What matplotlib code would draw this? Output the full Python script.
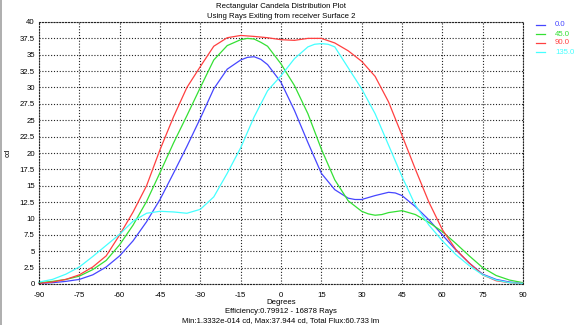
import matplotlib
matplotlib.use("Agg")
import matplotlib.pyplot as plt
from matplotlib.patches import Rectangle

# Angle samples (degrees) and candela values for each azimuth slice
deg_0 = [-90, -85, -80, -75, -70, -65, -60, -55, -50, -45, -40, -35, -30,
         -25, -20, -15, -12.5, -10, -7.5, -5, 0, 5, 10, 15, 20, 25, 27.5, 30,
         35, 40, 42.5, 45, 50, 55, 60, 65, 70, 75, 80, 85, 90]
cd_0 = [0.1, 0.2, 0.4, 0.7, 1.4, 2.6, 4.3, 6.6, 9.5, 12.9, 16.9, 21.0, 25.3,
        29.8, 32.8, 34.2, 34.6, 34.7, 34.3, 33.5, 30.8, 26.5, 21.6, 16.9, 14.4,
        13.1, 12.9, 12.9, 13.5, 14.0, 13.9, 13.5, 11.8, 9.8, 7.5, 5.2, 3.2, 1.5,
        0.7, 0.3, 0.1]

deg_45 = [-90, -85, -80, -75, -70, -65, -60, -55, -50, -45, -40, -35, -30,
          -25, -20, -15, -12.5, -10, -7.5, -5, 0, 5, 10, 15, 20, 25, 30, 32.5,
          35, 37.5, 40, 45, 50, 55, 60, 65, 70, 75, 80, 85, 90]
cd_45 = [0.2, 0.4, 0.7, 1.2, 2.2, 3.6, 6.0, 9.0, 12.6, 17.0, 21.5, 25.7, 30.0,
         34.2, 36.4, 37.3, 37.5, 37.4, 36.9, 36.3, 33.6, 30.3, 26.0, 20.6, 15.9,
         12.7, 11.1, 10.7, 10.5, 10.6, 10.9, 11.2, 10.6, 9.4, 8.0, 6.2, 4.3, 2.5,
         1.3, 0.6, 0.2]

deg_90 = [-90, -85, -80, -75, -70, -65, -60, -55, -50, -45, -40, -35, -30,
          -25, -20, -15, -10, -5, 0, 5, 10, 15, 20, 25, 30, 35, 40, 45, 50,
          55, 60, 65, 70, 75, 80, 85, 90]
cd_90 = [0.1, 0.3, 0.7, 1.4, 2.6, 4.3, 7.5, 11.0, 15.0, 20.5, 25.5, 30.0, 33.2,
         36.3, 37.6, 37.944, 37.8, 37.6, 37.3, 37.2, 37.5, 37.5, 36.8, 35.6, 34.0,
         31.7, 27.8, 22.7, 17.5, 12.5, 8.3, 5.3, 3.2, 1.4, 0.5, 0.2, 0.1]

deg_135 = [-90, -85, -80, -75, -70, -65, -60, -55, -50, -45, -40, -35, -30,
           -25, -20, -15, -10, -5, 0, 5, 10, 12.5, 15, 17.5, 20, 25, 30, 35,
           40, 45, 50, 55, 60, 65, 70, 75, 80, 85, 90]
cd_135 = [0.3, 0.7, 1.5, 2.6, 4.2, 5.9, 7.6, 9.6, 10.8, 11.1, 11.0, 10.8, 11.4,
          13.3, 16.9, 20.8, 25.5, 29.5, 31.8, 34.4, 36.2, 36.6, 36.7, 36.6, 36.2,
          33.0, 29.8, 26.0, 21.2, 16.4, 12.0, 9.0, 6.6, 4.5, 2.8, 1.4, 0.6, 0.2,
          0.1]

series_labels = ["0.0", "45.0", "90.0", "135.0"]
series_angles = [deg_0, deg_45, deg_90, deg_135]
series_values = [cd_0, cd_45, cd_90, cd_135]
series_colors = ["#4646ff", "#34e034", "#ff4040", "#44ffff"]

x_ticks = list(range(-90, 91, 15))
y_ticks = [i * 2.5 for i in range(17)]

plt.rcParams["font.family"] = ["Liberation Sans", "DejaVu Sans"]
FS = 5.6

fig = plt.figure(figsize=(5.84, 3.25), dpi=100, facecolor="white")
ax = fig.add_axes([39 / 584, 1 - 284 / 325, 484 / 584, 262 / 325])
ax.set_facecolor("white")

dots = (0, (1, 1.6))
for xs, vals, col in zip(series_angles, series_values, series_colors):
    ax.plot(xs, vals, color=col, lw=0.9, clip_on=False,
            solid_joinstyle="round")

ax.set_xlim(-90, 90)
ax.set_ylim(0, 40)
ax.set_xticks(x_ticks)
ax.set_yticks(y_ticks)
ax.set_xticklabels([str(t) for t in x_ticks])
ax.set_yticklabels([f"{t:g}" for t in y_ticks])
ax.tick_params(length=0, labelsize=FS, colors="black")
ax.tick_params(axis="x", pad=6)
ax.tick_params(axis="y", pad=3)
ax.grid(True, color="#222222", linestyle=dots, linewidth=0.8)
for sp in ax.spines.values():
    sp.set_linestyle(dots)
    sp.set_color("#222222")
    sp.set_linewidth(0.8)

# Titles and axis captions
cx = (39 + 523) / 2 / 584
fig.text(cx, 1 - 6 / 325, "Rectangular Candela Distribution Plot",
         ha="center", va="center", fontsize=FS)
fig.text(cx, 1 - 16 / 325, "Using Rays Exiting from receiver Surface 2",
         ha="center", va="center", fontsize=FS)
fig.text(cx, 1 - 302.5 / 325, "Degrees", ha="center", va="center", fontsize=FS)
fig.text(cx, 1 - 311.5 / 325, "Efficiency:0.79912 - 16878 Rays",
         ha="center", va="center", fontsize=FS)
fig.text(cx, 1 - 320.5 / 325,
         "Min:1.3332e-014 cd, Max:37.944 cd, Total Flux:60.733 lm",
         ha="center", va="center", fontsize=FS)
fig.text(8 / 584, 1 - 153 / 325, "cd", ha="center", va="center",
         rotation=90, fontsize=FS)

# Legend: short coloured dash followed by coloured label
for i, (lab, col) in enumerate(zip(series_labels, series_colors)):
    y = 1 - (25 + 9 * i) / 325
    fig.add_artist(plt.Line2D([536 / 584, 545 / 584], [y, y], color=col,
                              lw=0.9, transform=fig.transFigure))
    fig.text(555 / 584, y, lab, color=col, ha="left", va="center", fontsize=FS)

# Grey window edge on the left
fig.add_artist(Rectangle((0, 0), 2 / 584, 1, transform=fig.transFigure,
                         color="#b0b0b0", lw=0))

fig.savefig("out.png", dpi=100, facecolor="white")
